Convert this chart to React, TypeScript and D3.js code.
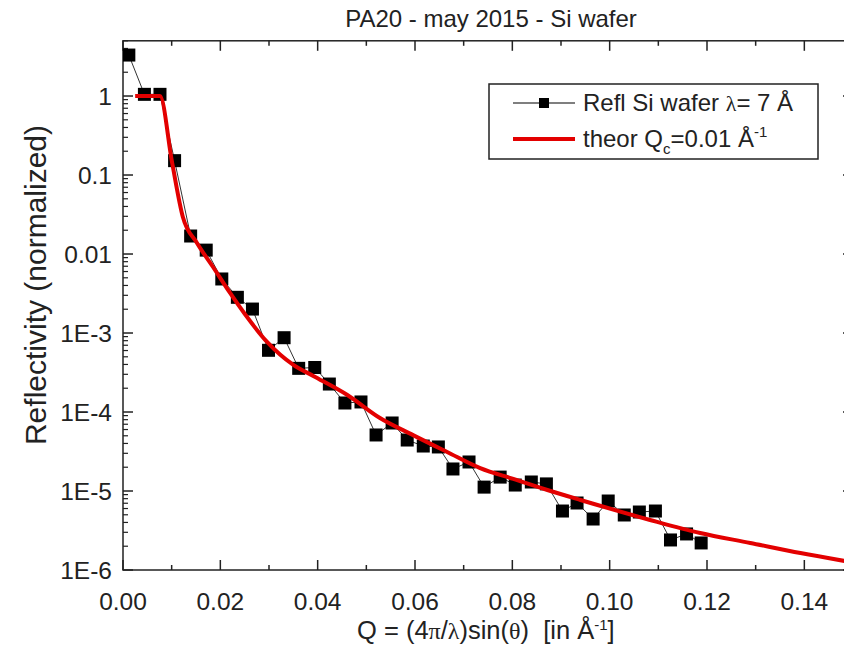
import React from "react";
import * as d3 from "d3";

const qData = [0.0012, 0.0044, 0.0076, 0.0106, 0.0139, 0.0171, 0.0203, 0.0235, 0.0266, 0.0299, 0.0331, 0.0361, 0.0394, 0.0424, 0.0456, 0.0489, 0.0520, 0.0553, 0.0584, 0.0617, 0.0648, 0.0678, 0.0711, 0.0742, 0.0775, 0.0806, 0.0839, 0.0870, 0.0903, 0.0933, 0.0966, 0.0997, 0.1030, 0.1061, 0.1094, 0.1125, 0.1158, 0.1188];
const rData = [3.3, 1.05, 1.05, 0.152, 0.0169, 0.0112, 0.00483, 0.00283, 0.00201, 6.04e-4, 8.72e-4, 3.57e-4, 3.66e-4, 2.26e-4, 1.30e-4, 1.34e-4, 5.12e-5, 7.26e-5, 4.42e-5, 3.71e-5, 3.61e-5, 1.90e-5, 2.33e-5, 1.12e-5, 1.50e-5, 1.19e-5, 1.30e-5, 1.23e-5, 5.58e-6, 7.05e-6, 4.42e-6, 7.47e-6, 4.97e-6, 5.42e-6, 5.58e-6, 2.40e-6, 2.86e-6, 2.20e-6];

const qTheory = [0.0025, 0.0076, 0.0101, 0.0123, 0.0152, 0.0185, 0.0220, 0.0250, 0.0296, 0.0350, 0.0391, 0.0461, 0.0528, 0.0596, 0.0666, 0.0734, 0.0802, 0.0872, 0.0940, 0.1083, 0.1186, 0.1289, 0.1392, 0.1483];
const rTheory = [1.0, 1.0, 0.142, 0.0294, 0.0138, 0.00685, 0.00321, 0.00175, 7.7e-4, 3.94e-4, 2.86e-4, 1.64e-4, 8.4e-5, 5.1e-5, 3.12e-5, 1.95e-5, 1.42e-5, 1.03e-5, 7.7e-6, 4.3e-6, 2.94e-6, 2.2e-6, 1.64e-6, 1.30e-6];

const xMajorTicks = [0, 0.02, 0.04, 0.06, 0.08, 0.1, 0.12, 0.14];
const xTickLabels = ["0.00", "0.02", "0.04", "0.06", "0.08", "0.10", "0.12", "0.14"];
const xMinorTicks = [0.01, 0.03, 0.05, 0.07, 0.09, 0.11, 0.13];
const yMajorTicks = [1, 0.1, 0.01, 1e-3, 1e-4, 1e-5, 1e-6];
const yTickLabels = ["1", "0.1", "0.01", "1E-3", "1E-4", "1E-5", "1E-6"];

const FONT = "'Liberation Sans', Arial, sans-serif";
const SYM = "'Liberation Serif', serif";

export default function App() {
  const W = 844, H = 646;
  const left = 123, right = 853, top = 40.8, bottom = 570;
  const x = d3.scaleLinear().domain([0, 0.15]).range([left, right]);
  const y = d3.scaleLog().domain([1e-6, 5]).range([bottom, top]);

  const yMinor: number[] = [];
  for (let e = -6; e <= 0; e++) {
    for (let m = 2; m <= 9; m++) {
      const v = m * Math.pow(10, e);
      if (v <= 5) yMinor.push(v);
    }
  }

  const dataLine = d3.line<number>().x((_, i) => x(qData[i])).y((_, i) => y(rData[i]));
  const theoryLine = d3
    .line<number>()
    .x((_, i) => x(qTheory[i]))
    .y((_, i) => y(rTheory[i]))
    .curve(d3.curveMonotoneX);

  const majLen = 10, minLen = 5;
  const ms = 13;

  return (
    <svg width={W} height={H} style={{ position: "absolute", left: 0, top: 0, background: "#fff" }} fontFamily={FONT}>
      <rect x={0} y={0} width={W} height={H} fill="#fff" />
      <text x={491} y={27} textAnchor="middle" fontSize={24} fill="#222">PA20 - may 2015 - Si wafer</text>

      <defs>
        <clipPath id="plotclip">
          <rect x={left} y={top} width={right - left} height={bottom - top} />
        </clipPath>
      </defs>

      <rect x={left} y={top} width={right - left} height={bottom - top} fill="none" stroke="#222" strokeWidth={1.5} />

      {xMajorTicks.map((t, i) => (
        <g key={"xm" + i}>
          <line x1={x(t)} x2={x(t)} y1={bottom} y2={bottom - majLen} stroke="#222" strokeWidth={1.5} />
          <line x1={x(t)} x2={x(t)} y1={top} y2={top + majLen} stroke="#222" strokeWidth={1.5} />
          <text x={x(t)} y={610} textAnchor="middle" fontSize={24.5} fill="#222">{xTickLabels[i]}</text>
        </g>
      ))}
      {xMinorTicks.map((t, i) => (
        <g key={"xn" + i}>
          <line x1={x(t)} x2={x(t)} y1={bottom} y2={bottom - minLen} stroke="#222" strokeWidth={1.5} />
          <line x1={x(t)} x2={x(t)} y1={top} y2={top + minLen} stroke="#222" strokeWidth={1.5} />
        </g>
      ))}

      {yMajorTicks.map((t, i) => (
        <g key={"ym" + i}>
          <line x1={left} x2={left + majLen} y1={y(t)} y2={y(t)} stroke="#222" strokeWidth={1.5} />
          <line x1={right} x2={right - majLen} y1={y(t)} y2={y(t)} stroke="#222" strokeWidth={1.5} />
          <text x={112} y={y(t) + 8.5} textAnchor="end" fontSize={24.5} fill="#222">{yTickLabels[i]}</text>
        </g>
      ))}
      {yMinor.map((t, i) => (
        <g key={"yn" + i}>
          <line x1={left} x2={left + minLen} y1={y(t)} y2={y(t)} stroke="#222" strokeWidth={1.2} />
          <line x1={right} x2={right - minLen} y1={y(t)} y2={y(t)} stroke="#222" strokeWidth={1.2} />
        </g>
      ))}

      <text transform={`translate(46,285) rotate(-90)`} textAnchor="middle" fontSize={30} fill="#222">Reflectivity (normalized)</text>
      <text x={357} y={639} fontSize={25.5} fill="#222" style={{ whiteSpace: "pre" }}>
        Q = (4<tspan fontFamily={SYM} fontSize={24}>π</tspan>/<tspan fontFamily={SYM} fontSize={24}>λ</tspan>)sin(<tspan fontFamily={SYM} fontSize={24}>θ</tspan>){"\u00A0\u00A0"}[in Å<tspan dy={-9} fontSize={15}>-1</tspan><tspan dy={9}>]</tspan>
      </text>

      <g clipPath="url(#plotclip)">
        <path d={dataLine(qData) || ""} fill="none" stroke="#333" strokeWidth={1} />
        {qData.map((q, i) => (
          <rect key={"p" + i} x={x(q) - ms / 2} y={y(rData[i]) - ms / 2} width={ms} height={ms} fill="#000" />
        ))}
        <path d={theoryLine(qTheory) || ""} fill="none" stroke="#e30000" strokeWidth={4} />
      </g>

      <rect x={489} y={84} width={329} height={75} fill="#fff" stroke="#222" strokeWidth={1.5} />
      <line x1={513} x2={575} y1={103} y2={103} stroke="#000" strokeWidth={1.2} />
      <rect x={544 - 5} y={103 - 5} width={10} height={10} fill="#000" />
      <text x={583} y={111} fontSize={24} fill="#222">Refl Si wafer <tspan fontFamily={SYM} fontSize={22}>λ</tspan>= 7 Å</text>
      <line x1={513} x2={575} y1={139} y2={139} stroke="#e30000" strokeWidth={4} />
      <text x={583} y={147} fontSize={24} fill="#222">theor Q<tspan dy={7} fontSize={15}>c</tspan><tspan dy={-7}>=0.01 Å</tspan><tspan dy={-10} fontSize={15}>-1</tspan></text>
    </svg>
  );
}
